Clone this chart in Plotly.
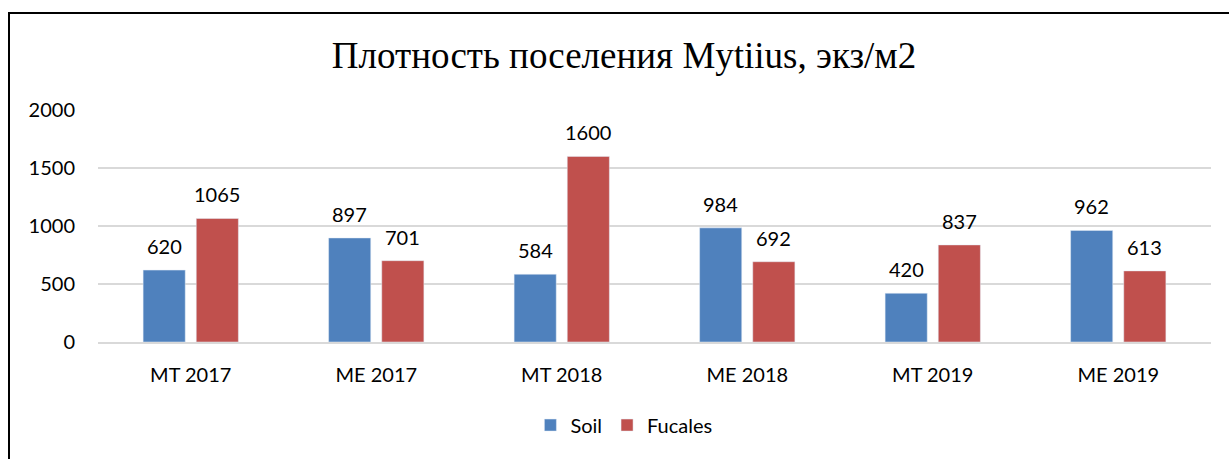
import plotly.graph_objects as go

categories = ["MT 2017", "ME 2017", "MT 2018", "ME 2018", "MT 2019", "ME 2019"]
soil = [620, 897, 584, 984, 420, 962]
fucales = [1065, 701, 1600, 692, 837, 613]
y_ticks = [0, 500, 1000, 1500, 2000]
title_text = "Плотность поселения Mytiius, экз/м2"

BLUE = "#4f81bd"
RED = "#c0504d"
FONT = "Lato, 'Open Sans', sans-serif"
FS = 20

fig = go.Figure()
fig.add_trace(go.Bar(name="Soil", x=categories, y=soil, marker_color=BLUE))
fig.add_trace(go.Bar(name="Fucales", x=categories, y=fucales, marker_color=RED))

annotations = []
for cat, v in zip(categories, soil):
    annotations.append(dict(x=cat, y=v, xref="x", yref="y", text=str(v), showarrow=False,
                            xshift=-26.5, yshift=10, yanchor="bottom",
                            font=dict(family=FONT, size=FS, color="#000000")))
for cat, v in zip(categories, fucales):
    annotations.append(dict(x=cat, y=v, xref="x", yref="y", text=str(v), showarrow=False,
                            xshift=26.5, yshift=10, yanchor="bottom",
                            font=dict(family=FONT, size=FS, color="#000000")))

fig.update_layout(
    width=1229, height=459,
    margin=dict(l=98, r=18, t=110, b=117),
    paper_bgcolor="white", plot_bgcolor="white",
    barmode="group", bargap=0.427, bargroupgap=0.2075,
    title=dict(text=title_text, x=624 / 1229, xanchor="center",
               y=1 - 55 / 459, yanchor="middle",
               font=dict(family="'Liberation Serif', 'Times New Roman', serif", size=37, color="#000000")),
    legend=dict(orientation="h", x=0.4725, xanchor="center", y=-0.358, yanchor="middle",
                font=dict(family=FONT, size=FS, color="#000000"), itemwidth=30,
                traceorder="normal"),
    annotations=annotations,
    font=dict(family=FONT, size=FS, color="#000000"),
)
fig.update_yaxes(range=[0, 2000], tickvals=y_ticks, showgrid=True, gridcolor="#d9d9d9", gridwidth=1.5,
                 zeroline=False, showline=False, ticks="", ticklabelstandoff=22,
                 tickfont=dict(family=FONT, size=FS, color="#000000"))
fig.update_xaxes(showline=True, linecolor="#d9d9d9", linewidth=1.5, ticks="", ticklabelstandoff=14,
                 tickfont=dict(family=FONT, size=FS, color="#000000"))

# chart border (frame extends past right and bottom edges)
fig.add_shape(type="rect", xref="paper", yref="paper",
              x0=(9 - 98) / 1113, x1=(1245 - 98) / 1113,
              y0=(342 - 480) / 232, y1=(342 - 13) / 232,
              line=dict(color="#000000", width=2), fillcolor="rgba(0,0,0,0)", layer="above")

fig.write_html("out.html", config={"displayModeBar": False},
               post_script="document.body.style.margin='0';document.body.style.overflow='hidden';")
